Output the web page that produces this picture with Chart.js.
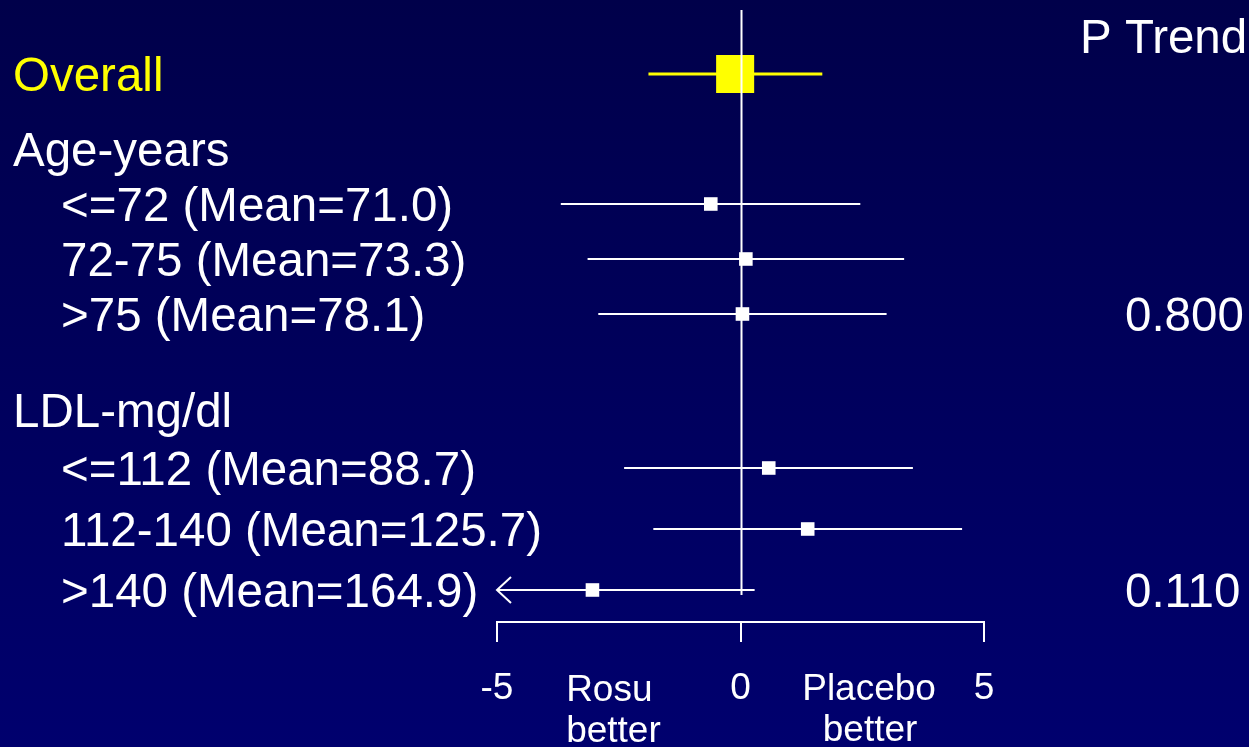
<!DOCTYPE html>
<html>
<head>
<meta charset="utf-8">
<title>Subgroup forest plot</title>
<script src="https://cdn.jsdelivr.net/npm/chart.js@4.4.1/dist/chart.umd.min.js"></script>
<style>
  html, body { margin: 0; padding: 0; background: #00005c; overflow: hidden; }
  canvas { display: block; }
</style>
</head>
<body>
<canvas id="forest" width="1249" height="747"></canvas>
<script>
// ---- data ----
const overallLabel = 'Overall';
const overallEst = -0.11;
const overallLow = -1.89;
const overallHigh = 1.68;

const ageHeading = 'Age-years';
const ageLabels = ['<=72 (Mean=71.0)', '72-75 (Mean=73.3)', '>75 (Mean=78.1)'];
const ageEst = [-0.61, 0.11, 0.04];
const ageLow = [-3.69, -3.14, -2.92];
const ageHigh = [2.46, 3.36, 3.00];

const ldlHeading = 'LDL-mg/dl';
const ldlLabels = ['<=112 (Mean=88.7)', '112-140 (Mean=125.7)', '>140 (Mean=164.9)'];
const ldlEst = [0.58, 1.38, -3.04];
const ldlLow = [-2.39, -1.79, -5.0];   // -5 = runs off the axis (arrow)
const ldlHigh = [3.54, 4.55, 0.29];

const pTrendTitle = 'P Trend';
const pTrendValues = ['0.800', '0.110'];

const xTicks = [-5, 0, 5];
const leftSideText = ['Rosu', 'better'];
const rightSideText = ['Placebo', 'better'];

// ---- layout: vertical slot of each row (1 slot = 55 px) ----
const slotOverall = 0;
const slotAgeHeading = 1.37;
const slotAge = [2.364, 3.364, 4.364];
const slotLdlHeading = 6.11;
const slotLdl = [7.164, 8.273, 9.382];
const slotPTitle = -0.69;

const FONT = '"Liberation Sans", Arial, Helvetica, sans-serif';
const WHITE = '#ffffff';
const YELLOW = '#ffff00';

function ciDataset(low, high, slot, color, width) {
  return {
    type: 'line',
    data: [{x: low, y: slot}, {x: high, y: slot}],
    borderColor: color,
    borderWidth: width,
    pointRadius: 0,
    showLine: true,
    order: 2
  };
}

const datasets = [];
datasets.push(ciDataset(overallLow, overallHigh, slotOverall, YELLOW, 3));
ageLabels.forEach((_, i) => datasets.push(ciDataset(ageLow[i], ageHigh[i], slotAge[i], WHITE, 2)));
ldlLabels.forEach((_, i) => datasets.push(ciDataset(ldlLow[i], ldlHigh[i], slotLdl[i], WHITE, 2)));

// point estimates
datasets.push({
  type: 'scatter',
  data: [{x: overallEst, y: slotOverall}],
  pointStyle: 'rect',
  pointRadius: 26.9,
  backgroundColor: YELLOW,
  borderColor: YELLOW,
  borderWidth: 0,
  order: 1
});
datasets.push({
  type: 'scatter',
  data: ageEst.map((v, i) => ({x: v, y: slotAge[i]}))
    .concat(ldlEst.map((v, i) => ({x: v, y: slotLdl[i]}))),
  pointStyle: 'rect',
  pointRadius: 9.6,
  backgroundColor: WHITE,
  borderColor: WHITE,
  borderWidth: 0,
  order: 1
});

// background, row texts, reference line and truncation arrows
const decor = {
  id: 'decor',
  beforeDraw(chart) {
    const {ctx, width, height} = chart;
    const g = ctx.createLinearGradient(0, 0, 0, height);
    g.addColorStop(0, '#00004a');
    g.addColorStop(1, '#00006e');
    ctx.save();
    ctx.fillStyle = g;
    ctx.fillRect(0, 0, width, height);
    ctx.restore();
  },
  afterDatasetsDraw(chart) {
    const {ctx} = chart;
    const xs = chart.scales.x, ys = chart.scales.y;
    const base = 17;  // baseline offset from row centre
    ctx.save();

    // no-effect line at 0
    ctx.strokeStyle = WHITE;
    ctx.lineWidth = 2;
    ctx.beginPath();
    const x0 = Math.round(xs.getPixelForValue(0)) + 0.5;
    ctx.moveTo(x0, chart.chartArea.top + 10);
    ctx.lineTo(x0, ys.getPixelForValue(slotLdl[2]) + 5);
    ctx.stroke();

    // arrow where an interval runs past the axis minimum
    ldlLow.forEach((v, i) => {
      if (v <= xs.min) {
        const ax = xs.getPixelForValue(xs.min);
        const ay = ys.getPixelForValue(slotLdl[i]);
        ctx.beginPath();
        ctx.moveTo(ax + 14, ay - 13);
        ctx.lineTo(ax, ay);
        ctx.lineTo(ax + 14, ay + 13);
        ctx.stroke();
      }
    });

    // left-hand labels
    ctx.textAlign = 'left';
    ctx.textBaseline = 'alphabetic';
    ctx.font = '47.5px ' + FONT;
    ctx.fillStyle = YELLOW;
    ctx.fillText(overallLabel, 13, ys.getPixelForValue(slotOverall) + base);
    ctx.fillStyle = WHITE;
    ctx.fillText(ageHeading, 13, ys.getPixelForValue(slotAgeHeading) + base);
    ageLabels.forEach((t, i) => ctx.fillText(t, 61, ys.getPixelForValue(slotAge[i]) + base));
    ctx.fillText(ldlHeading, 13, ys.getPixelForValue(slotLdlHeading) + base);
    ldlLabels.forEach((t, i) => ctx.fillText(t, 61, ys.getPixelForValue(slotLdl[i]) + base));

    // P trend column
    ctx.fillText(pTrendTitle, 1080, ys.getPixelForValue(slotPTitle) + base);
    ctx.fillText(pTrendValues[0], 1125, ys.getPixelForValue(slotAge[2]) + base);
    ctx.fillText(pTrendValues[1], 1125, ys.getPixelForValue(slotLdl[2]) + base);

    // favour labels under the axis
    ctx.font = '37px ' + FONT;
    ctx.textAlign = 'left';
    const lx = xs.getPixelForValue(-3.58);
    ctx.fillText(leftSideText[0], lx, 701);
    ctx.fillText(leftSideText[1], lx, 742);
    ctx.textAlign = 'center';
    const rx = xs.getPixelForValue(2.64);
    ctx.fillText(rightSideText[0], rx, 700);
    ctx.fillText(rightSideText[1], rx + 1, 741);
    ctx.restore();
  }
};

new Chart(document.getElementById('forest'), {
  type: 'scatter',
  data: {datasets},
  options: {
    responsive: false,
    devicePixelRatio: 1,
    animation: false,
    events: [],
    layout: {autoPadding: false, padding: {left: 497, right: 265, top: 0, bottom: 10.6}},
    plugins: {legend: {display: false}, tooltip: {enabled: false}},
    scales: {
      x: {
        type: 'linear',
        position: 'bottom',
        min: -5,
        max: 5,
        afterBuildTicks(scale) { scale.ticks = xTicks.map(v => ({value: v})); },
        ticks: {
          color: WHITE,
          font: {family: FONT, size: 37},
          padding: 25,
          maxRotation: 0,
          autoSkip: false
        },
        grid: {
          drawOnChartArea: false,
          drawTicks: true,
          tickLength: 20,
          color: WHITE,
          lineWidth: 2
        },
        border: {display: true, color: WHITE, width: 2}
      },
      y: {
        type: 'linear',
        reverse: true,
        min: -1.345,
        max: 9.964,
        display: false
      }
    }
  },
  plugins: [decor]
});
</script>
</body>
</html>
